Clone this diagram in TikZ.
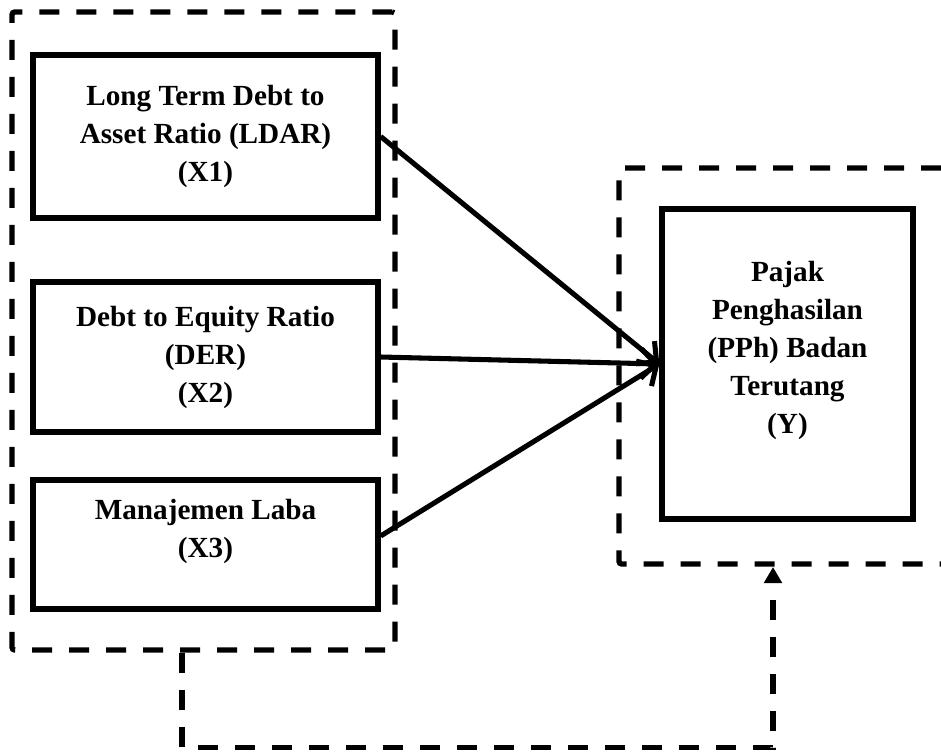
\documentclass[tikz,border=0pt]{standalone}
\usepackage{fontspec}
\setmainfont{Liberation Serif}
\usetikzlibrary{arrows.meta}
\begin{document}
\begin{tikzpicture}[x=0.75pt,y=-0.75pt,
  lbl/.style={align=center,inner sep=0pt,font=\bfseries\fontsize{21.9}{28.5}\selectfont},
  box/.style={lbl,draw,line width=4pt,rectangle},
  group/.style={draw,line width=4pt,dash pattern=on 15pt off 12.75pt,rounded corners=2pt},
  link/.style={line width=3.8pt,-{Straight Barb[length=11pt,width=22pt]}},
  fb/.style={line width=4pt,dash pattern=on 15pt off 12.75pt,-{Triangle[length=12pt,width=13pt]}}
]
\useasboundingbox (0,0) rectangle (941,751);
% left dashed group
\node[group,minimum width=287.25pt,minimum height=478.5pt] (g1) at (203.5,331) {};
% right dashed group (open at the right edge)
\coordinate (ra) at (941,168);
\coordinate (rb) at (619,168);
\coordinate (rc) at (619,564);
\coordinate (rd) at (941,564);
\draw[group] (ra) -- (rb) -- (rc) -- (rd);
% boxes
\node[box,minimum width=258.75pt,minimum height=122.25pt] (x1) at (205.5,136.5)
  {Long Term Debt to\\Asset Ratio (LDAR)\\(X1)};
\node[box,minimum width=258.75pt,minimum height=112.5pt] (x2) at (205.5,357)
  {Debt to Equity Ratio\\(DER)\\(X2)};
\node[box,minimum width=258.75pt,minimum height=96.75pt] (x3) at (205.5,544.5) {};
\node[lbl] (x3t) at (205.5,531) {Manajemen Laba\\(X3)};
\node[box,minimum width=188.25pt,minimum height=232.5pt] (y) at (787.5,364) {};
\node[lbl] (yt) at (787.5,350.5) {Pajak\\Penghasilan\\(PPh) Badan\\Terutang\\(Y)};
% arrows
\draw[link] (x1.east) -- (y.west);
\draw[link] (x2.east) -- (y.west);
\draw[link] ([yshift=6.4pt]x3.east) -- (y.west);
% feedback dashed connector
\coordinate (fs) at ([xshift=-16.1pt]g1.south);
\coordinate (fe) at (773,567);
\draw[fb] (fs) -- ++(0,95) -| (fe);
\end{tikzpicture}
\end{document}
